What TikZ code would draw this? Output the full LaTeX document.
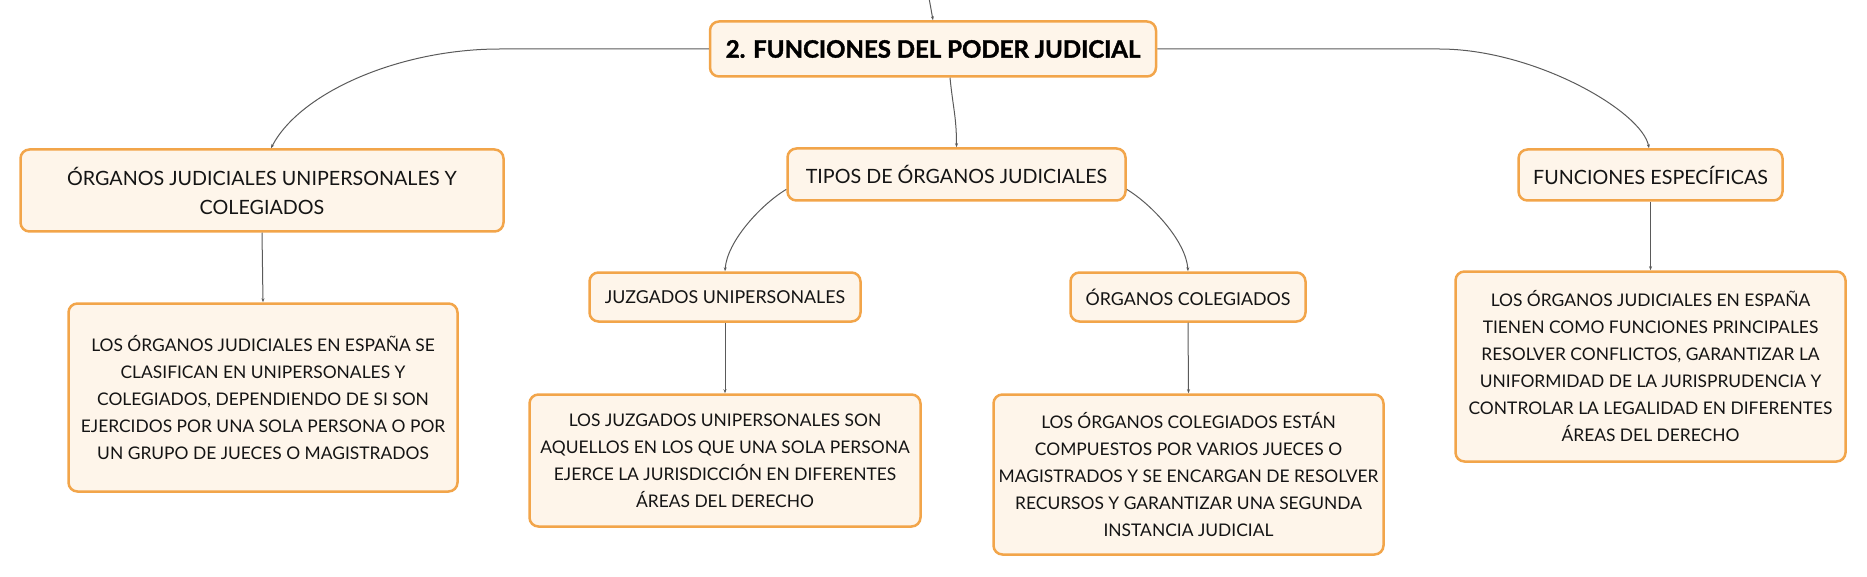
\documentclass[tikz,border=0pt]{standalone}
\usepackage{fontspec}
\setmainfont{Lato}
\newfontfamily\titulo{Lato}[BoldFeatures={FakeBold=1.5}]
\usetikzlibrary{arrows.meta}
\definecolor{borde}{HTML}{F2A54A}
\definecolor{relleno}{HTML}{FEF5EA}
\definecolor{linea}{HTML}{5A5A5A}

\begin{document}
\begin{tikzpicture}[x=1pt, y=-1pt,
    caja/.style={draw=borde, fill=relleno, line width=2.5pt, rounded corners=9pt,
        align=center, text=black!92, inner sep=0pt},
    tema/.style={caja, font=\titulo\fontsize{24}{28}\selectfont\bfseries, text=black},
    rama/.style={caja, font=\fontsize{19.7}{29}\selectfont},
    subrama/.style={caja, font=\fontsize{17.8}{27}\selectfont},
    nota/.style={caja, font=\fontsize{17.4}{27}\selectfont},
    enlace/.style={draw=linea, line width=1pt, -{Stealth[length=4pt,width=3pt]}}]
        \useasboundingbox (0,0) rectangle (1867,577);

        \node[tema, minimum width=446, minimum height=55] (root) at (933, 49) {2. FUNCIONES DEL PODER JUDICIAL};
        \node[rama, minimum width=483, minimum height=82] (ojuc) at (262, 190.5) {ÓRGANOS JUDICIALES UNIPERSONALES Y\\COLEGIADOS};
        \node[rama, minimum width=338, minimum height=52] (tipos) at (956.5, 174.5) {TIPOS DE ÓRGANOS JUDICIALES};
        \node[rama, minimum width=264, minimum height=51] (fesp) at (1650.5, 175) {FUNCIONES ESPECÍFICAS};
        \node[subrama, minimum width=271, minimum height=49] (juz) at (725, 297) {JUZGADOS UNIPERSONALES};
        \node[subrama, minimum width=235, minimum height=49] (ocol) at (1188, 297) {ÓRGANOS COLEGIADOS};

        \node[nota, minimum width=389, minimum height=188] (odesc) at (263, 397.5) {LOS ÓRGANOS JUDICIALES EN ESPAÑA SE\\CLASIFICAN EN UNIPERSONALES Y\\COLEGIADOS, DEPENDIENDO DE SI SON\\EJERCIDOS POR UNA SOLA PERSONA O POR\\UN GRUPO DE JUECES O MAGISTRADOS};
        \node[nota, minimum width=391, minimum height=132] (jdesc) at (725, 460.5) {LOS JUZGADOS UNIPERSONALES SON\\AQUELLOS EN LOS QUE UNA SOLA PERSONA\\EJERCE LA JURISDICCIÓN EN DIFERENTES\\ÁREAS DEL DERECHO};
        \node[nota, minimum width=390, minimum height=160] (cdesc) at (1188.5, 474.5) {LOS ÓRGANOS COLEGIADOS ESTÁN\\COMPUESTOS POR VARIOS JUECES O\\MAGISTRADOS Y SE ENCARGAN DE RESOLVER\\RECURSOS Y GARANTIZAR UNA SEGUNDA\\INSTANCIA JUDICIAL};
        \node[nota, minimum width=390, minimum height=190] (fdesc) at (1650.5, 366.5) {LOS ÓRGANOS JUDICIALES EN ESPAÑA\\TIENEN COMO FUNCIONES PRINCIPALES\\RESOLVER CONFLICTOS, GARANTIZAR LA\\UNIFORMIDAD DE LA JURISPRUDENCIA Y\\CONTROLAR LA LEGALIDAD EN DIFERENTES\\ÁREAS DEL DERECHO};

        \coordinate (entrada) at (929, -2);

        \draw[enlace] (entrada) -- (root.north);
        \draw[enlace] (root.west) -- ++(-209, 0) .. controls +(-100, 0) and +(29, -56) .. ([xshift=9pt]ojuc.north);
        \draw[enlace] (root.east) -- ++(282, 0) .. controls +(95, 0) and +(-7, -37) .. ([xshift=-1.5pt]fesp.north);
        \draw[enlace] ([xshift=17pt]root.south) .. controls +(3, 30) and +(0, -30) .. (tipos.north);
        \draw[enlace] (tipos.185) .. controls +(-25, 15) and +(2, -30) .. (juz.north);
        \draw[enlace] (tipos.355) .. controls +(25, 15) and +(-2, -30) .. (ocol.north);
        \draw[enlace] (ojuc.south) -- (odesc.north);
        \draw[enlace] (juz.south) -- (jdesc.north);
        \draw[enlace] (ocol.south) -- (cdesc.north);
        \draw[enlace] (fesp.south) -- (fdesc.north);
    \end{tikzpicture}
\end{document}
